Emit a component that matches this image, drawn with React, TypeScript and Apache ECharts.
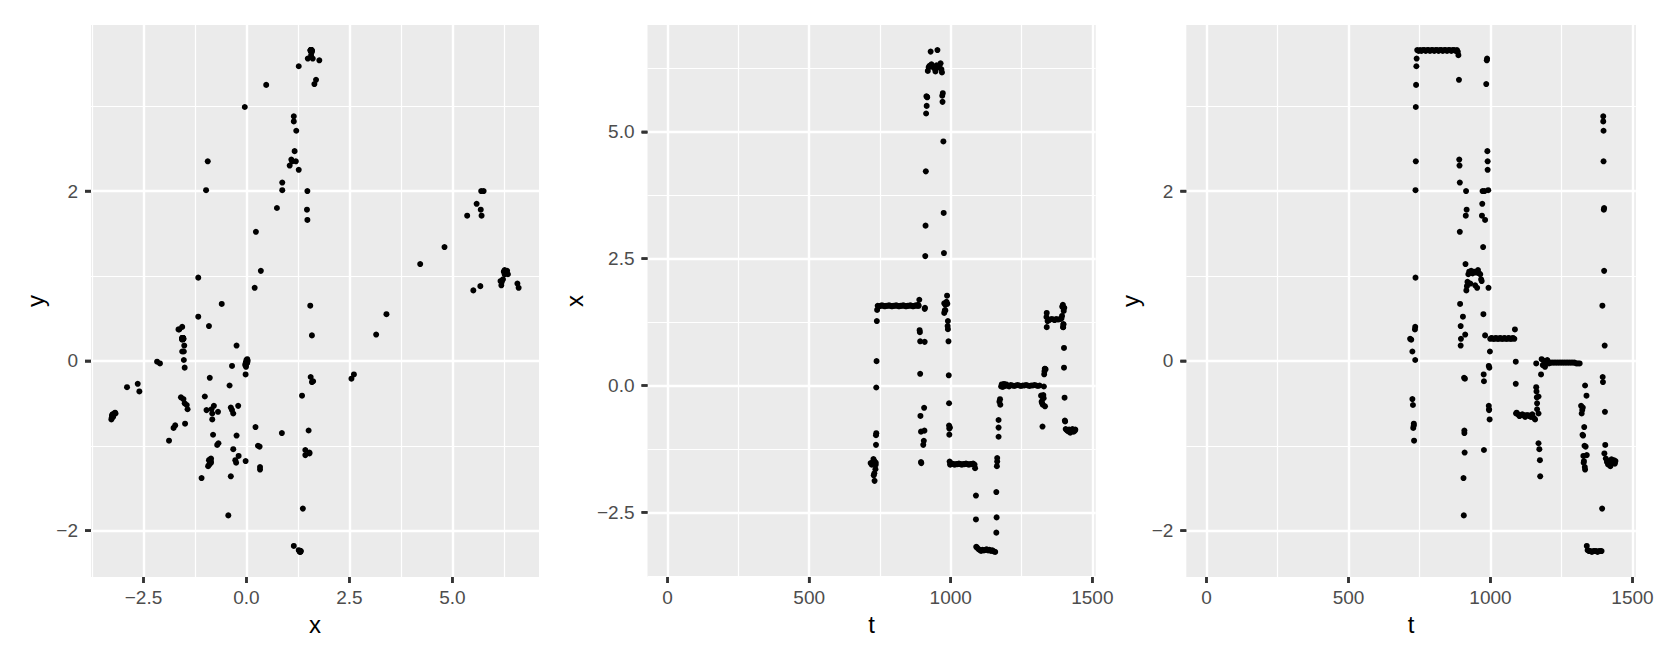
import { useEffect, useRef } from "react";
import * as echarts from "echarts";

// Each record: [minute of day t, position x, position y]
const startWander = [
  [717, -1.53, 0.26], [721, -1.56, 0.25], [725, -1.52, 0.11], [725, -1.53, -0.45],
  [727, -1.45, -0.52], [728, -1.77, -0.79], [730, -1.73, -0.76], [730, -1.49, -0.74],
  [731, -1.88, -0.94], [734, -1.65, 0.37], [735, -1.52, 0.01], [735, -1.56, 0.40],
  [736, -1.17, 0.98], [736, -0.98, 2.01], [737, -0.94, 2.35], [737, -0.04, 2.99],
  [738, 0.48, 3.25], [739, 1.27, 3.47], [740, 1.49, 3.56],
];
const northStay = [
  [742, 1.57, 3.66], [747, 1.56, 3.65], [752, 1.57, 3.66], [757, 1.58, 3.65], [762, 1.57, 3.66],
  [767, 1.56, 3.66], [772, 1.57, 3.65], [777, 1.57, 3.66], [782, 1.58, 3.66], [787, 1.57, 3.65],
  [792, 1.56, 3.66], [797, 1.57, 3.66], [802, 1.57, 3.65], [807, 1.58, 3.66], [812, 1.57, 3.66],
  [817, 1.56, 3.65], [822, 1.57, 3.66], [827, 1.57, 3.66], [832, 1.58, 3.65], [837, 1.57, 3.66],
  [842, 1.56, 3.66], [847, 1.57, 3.65], [852, 1.57, 3.66], [857, 1.58, 3.66], [862, 1.57, 3.65],
  [867, 1.56, 3.66], [872, 1.57, 3.66], [877, 1.58, 3.65], [882, 1.57, 3.66], [885, 1.59, 3.64],
];
const firstDescent = [
  [887, 1.57, 3.60], [889, 1.69, 3.31], [890, 1.09, 2.37], [891, 1.05, 2.30],
  [892, 0.87, 2.10], [892, 0.23, 1.52], [893, -0.60, 0.67], [895, -0.91, 0.41],
  [895, -1.51, 0.18], [896, -1.53, 0.26], [903, -1.17, 0.52], [905, -1.09, -1.38],
  [906, -0.44, -1.82], [907, -0.89, -0.20], [908, 0.86, -0.85], [908, 1.51, -0.82],
  [909, 1.53, -1.08],
];
const eastDash = [
  [910, 2.55, -0.21], [911, 3.15, 0.31], [912, 4.22, 1.14], [913, 5.36, 1.71],
  [914, 5.70, 2.00], [915, 5.51, 0.83], [916, 5.69, 1.78], [917, 5.68, 0.88],
];
const eastStay = [
  [919, 6.20, 0.93], [922, 6.27, 1.02], [925, 6.30, 1.05], [929, 6.58, 0.91], [932, 6.33, 1.06],
  [937, 6.28, 1.03], [942, 6.25, 1.05], [946, 6.19, 0.89], [950, 6.31, 1.04], [953, 6.61, 0.86],
  [956, 6.27, 1.07], [960, 6.30, 1.03], [964, 6.35, 1.02], [967, 6.23, 0.96], [969, 6.17, 0.94],
];
const returnWest = [
  [970, 5.71, 1.71], [971, 5.59, 1.85], [972, 5.76, 2.00], [974, 4.81, 1.34], [975, 3.40, 0.55],
  [976, 2.61, -0.16], [977, 1.62, -0.24], [977, 1.43, -1.05], [979, 1.48, 2.00], [981, 1.48, 1.66],
  [981, 1.59, 0.30], [985, 1.65, 3.26], [987, 1.77, 3.54], [988, 1.61, 3.56], [989, 1.17, 2.47],
  [990, 1.27, 2.25], [990, 1.11, 2.35], [992, 0.87, 2.01], [993, 0.20, 0.86], [994, -0.35, -0.06],
  [994, -0.79, -0.53], [995, -0.85, -0.57], [995, -0.97, -0.58], [996, -1.50, -0.08],
  [997, -0.83, -0.69], [998, -1.56, 0.11],
];
const westStay = [
  [999, -1.55, 0.26], [1004, -1.54, 0.27], [1009, -1.55, 0.26], [1014, -1.56, 0.26],
  [1019, -1.55, 0.27], [1024, -1.55, 0.26], [1029, -1.54, 0.26], [1034, -1.55, 0.27],
  [1039, -1.56, 0.26], [1044, -1.55, 0.26], [1049, -1.55, 0.27], [1054, -1.54, 0.26],
  [1059, -1.55, 0.26], [1064, -1.56, 0.27], [1069, -1.55, 0.26], [1074, -1.55, 0.26],
  [1079, -1.54, 0.27], [1084, -1.56, 0.26],
];
const farWestLeg = [
  [1086, -1.63, 0.37], [1089, -2.17, -0.01], [1089, -2.64, -0.27], [1090, -3.18, -0.62],
];
const farWestStay = [
  [1092, -3.19, -0.61], [1097, -3.22, -0.63], [1102, -3.24, -0.65], [1107, -3.26, -0.64],
  [1112, -3.24, -0.63], [1117, -3.25, -0.64], [1122, -3.24, -0.66], [1127, -3.23, -0.64],
  [1132, -3.25, -0.64], [1137, -3.24, -0.65], [1142, -3.26, -0.66], [1147, -3.25, -0.63],
  [1152, -3.27, -0.67], [1157, -3.28, -0.69],
];
const returnCentre = [
  [1161, -2.90, -0.31], [1161, -2.10, -0.03], [1162, -2.60, -0.36], [1163, -1.59, -0.43],
  [1164, -1.50, -0.50], [1164, -1.43, -0.57], [1169, -1.01, -0.42], [1169, -0.83, -0.62],
  [1169, -0.68, -0.97], [1172, -0.32, -1.04], [1174, -0.27, -1.17], [1175, -0.38, -1.36],
  [1178, -0.02, -0.16],
];
const centreStay = [
  [1180, 0.02, 0.02], [1184, -0.03, -0.05], [1188, 0.03, 0.00], [1192, -0.01, -0.07],
  [1196, 0.02, -0.02], [1200, 0.00, 0.01], [1206, -0.02, -0.03], [1212, 0.01, -0.02],
  [1218, 0.00, -0.02], [1224, -0.01, -0.02], [1230, 0.00, -0.02], [1236, 0.01, -0.02],
  [1242, 0.00, -0.02], [1248, -0.01, -0.02], [1254, 0.00, -0.02], [1260, 0.00, -0.02],
  [1266, 0.01, -0.02], [1272, 0.00, -0.02], [1278, -0.01, -0.02], [1284, 0.00, -0.02],
  [1290, 0.00, -0.02], [1296, 0.01, -0.02], [1302, 0.00, -0.03], [1308, -0.01, -0.03],
  [1314, 0.00, -0.03],
];
const southLeg = [
  [1319, -0.20, -0.53], [1321, -0.32, -0.62], [1323, -0.35, -0.58], [1324, -0.81, -0.87],
  [1325, -0.38, -0.55], [1326, -0.24, -0.88], [1327, -0.19, -1.12], [1328, -0.25, -1.20],
  [1329, -0.02, -1.18], [1330, 0.22, -0.78], [1331, 0.28, -1.00], [1332, 0.33, -1.25],
  [1333, 0.33, -1.28], [1333, -0.41, -0.29], [1335, 0.32, -1.01], [1338, 1.35, -0.41],
  [1339, 1.43, -1.11], [1339, 1.15, -2.18],
];
const southStay = [
  [1342, 1.27, -2.23], [1347, 1.29, -2.24], [1352, 1.30, -2.24], [1357, 1.31, -2.25],
  [1362, 1.30, -2.24], [1367, 1.29, -2.24], [1372, 1.31, -2.24], [1377, 1.30, -2.25],
  [1382, 1.30, -2.24], [1387, 1.31, -2.24], [1391, 1.32, -2.24],
];
const lastLeg = [
  [1393, 1.37, -1.74], [1394, 1.55, 0.65], [1395, 1.56, -0.19], [1396, 1.59, -0.25],
  [1397, 1.15, 2.88], [1397, 1.15, 2.82], [1398, 1.21, 2.71], [1398, 1.20, 2.35],
  [1399, 1.47, 1.78], [1400, 0.74, 1.80], [1400, 0.35, 1.06], [1401, 1.53, -1.09],
  [1402, -0.24, 0.18], [1403, -0.69, -0.60], [1404, -0.71, -0.99],
];
const finalStay = [
  [1406, -0.86, -1.15], [1410, -0.88, -1.19], [1414, -0.90, -1.22], [1418, -0.87, -1.18],
  [1422, -0.93, -1.24], [1426, -0.88, -1.16], [1430, -0.86, -1.20], [1434, -0.91, -1.17],
  [1438, -0.89, -1.21], [1440, -0.87, -1.18],
];

// minutes covered by the recording (earlier minutes carry no position fix)
const minuteDomain = [1, 1440];

const xTicks = [-2.5, 0, 2.5, 5];
const yTicks = [-2, 0, 2];
const tTicks = [0, 500, 1000, 1500];

const track = [
  ...startWander, ...northStay, ...firstDescent, ...eastDash, ...eastStay, ...returnWest,
  ...westStay, ...farWestLeg, ...farWestStay, ...returnCentre, ...centreStay, ...southLeg,
  ...southStay, ...lastLeg, ...finalStay,
];

const FONT = "'Liberation Sans', Arial, Helvetica, sans-serif";
const TICK_LEN = 6;
const TICK_COLOR = "#333333";
const TICK_WIDTH = 2.5;

function expand(lo: number, hi: number) {
  const d = (hi - lo) * 0.05;
  return [lo - d, hi + d];
}

function range(vals: number[]) {
  return [Math.min(...vals), Math.max(...vals)];
}

function fmt(decimals: number) {
  return (v: number) => {
    const s = Math.abs(v) < 1e-9 ? (0).toFixed(decimals) : v.toFixed(decimals);
    return s.replace("-", "\u2212");
  };
}

function axis(o: {
  gridIndex: number;
  extent: number[];
  step: number;
  ticks: number[];
  decimals: number;
  name: string;
  nameGap: number;
  isY: boolean;
}) {
  return {
    type: "value",
    gridIndex: o.gridIndex,
    position: o.isY ? "left" : "bottom",
    min: o.extent[0],
    max: o.extent[1],
    minInterval: o.step,
    maxInterval: o.step,
    name: o.name,
    nameLocation: "middle",
    nameGap: o.nameGap,
    nameTextStyle: { fontSize: 24, color: "#000000", fontFamily: FONT },
    axisLine: { show: false, onZero: false },
    axisTick: {
      show: true,
      inside: false,
      length: TICK_LEN,
      customValues: o.ticks,
      lineStyle: { color: TICK_COLOR, width: TICK_WIDTH },
    },
    axisLabel: {
      show: true,
      customValues: o.ticks,
      color: "#4D4D4D",
      fontSize: 19,
      fontFamily: FONT,
      margin: o.isY ? 13 : 11,
      formatter: fmt(o.decimals),
    },
    splitLine: { show: true, lineStyle: { color: "#FFFFFF", width: 2.4 } },
    minorTick: { show: false, splitNumber: 2 },
    minorSplitLine: { show: true, lineStyle: { color: "#FFFFFF", width: 1.2 } },
  };
}

// tick marks drawn by a custom series: positioned with api.coord through the panel's axes
function tickSeries(panel: number, vals: number[], edge: number, vertical: boolean) {
  return {
    type: "custom",
    xAxisIndex: panel,
    yAxisIndex: panel,
    clip: false,
    silent: true,
    z: 20,
    encode: { x: 0, y: 1 },
    data: vals.map((v) => (vertical ? [v, edge] : [edge, v])),
    renderItem: (_params: any, api: any) => {
      const p = api.coord([api.value(0), api.value(1)]);
      const shape = vertical
        ? { x1: p[0], y1: p[1], x2: p[0], y2: p[1] + TICK_LEN }
        : { x1: p[0] - TICK_LEN, y1: p[1], x2: p[0], y2: p[1] };
      return {
        type: "line",
        shape,
        style: { stroke: TICK_COLOR, lineWidth: TICK_WIDTH, fill: "none" },
      };
    },
  };
}

export default function App() {
  const ref = useRef<HTMLDivElement>(null);

  useEffect(() => {
    if (!ref.current) return;
    const chart = echarts.init(ref.current, undefined, { renderer: "svg" });

    const xs = track.map((p) => p[1]);
    const ys = track.map((p) => p[2]);
    const xExt = expand(range(xs)[0], range(xs)[1]);
    const yExt = expand(range(ys)[0], range(ys)[1]);
    const tExt = expand(minuteDomain[0], minuteDomain[1]);

    const gridBase = { show: true, backgroundColor: "#EBEBEB", borderWidth: 0, top: 25, height: 552 };

    const pointStyle = {
      type: "scatter",
      symbol: "circle",
      symbolSize: 6,
      itemStyle: { color: "#000000", opacity: 1 },
      silent: true,
      z: 5,
    };

    chart.setOption({
      animation: false,
      textStyle: { fontFamily: FONT },
      grid: [
        { ...gridBase, left: 91, width: 448 },
        { ...gridBase, left: 647.5, width: 448.2 },
        { ...gridBase, left: 1186.3, width: 449.6 },
      ],
      xAxis: [
        axis({ gridIndex: 0, extent: xExt, step: 2.5, ticks: xTicks, decimals: 1, name: "x", nameGap: 35, isY: false }),
        axis({ gridIndex: 1, extent: tExt, step: 500, ticks: tTicks, decimals: 0, name: "t", nameGap: 35, isY: false }),
        axis({ gridIndex: 2, extent: tExt, step: 500, ticks: tTicks, decimals: 0, name: "t", nameGap: 35, isY: false }),
      ],
      yAxis: [
        axis({ gridIndex: 0, extent: yExt, step: 2, ticks: yTicks, decimals: 0, name: "y", nameGap: 44, isY: true }),
        axis({ gridIndex: 1, extent: xExt, step: 2.5, ticks: xTicks, decimals: 1, name: "x", nameGap: 61, isY: true }),
        axis({ gridIndex: 2, extent: yExt, step: 2, ticks: yTicks, decimals: 0, name: "y", nameGap: 44, isY: true }),
      ],
      series: [
        { ...pointStyle, xAxisIndex: 0, yAxisIndex: 0, data: track.map((p) => [p[1], p[2]]) },
        { ...pointStyle, xAxisIndex: 1, yAxisIndex: 1, data: track.map((p) => [p[0], p[1]]) },
        { ...pointStyle, xAxisIndex: 2, yAxisIndex: 2, data: track.map((p) => [p[0], p[2]]) },
        tickSeries(0, xTicks, yExt[0], true),
        tickSeries(0, yTicks, xExt[0], false),
        tickSeries(1, tTicks, xExt[0], true),
        tickSeries(1, xTicks, tExt[0], false),
        tickSeries(2, tTicks, yExt[0], true),
        tickSeries(2, yTicks, tExt[0], false),
      ],
    });

    return () => chart.dispose();
  }, []);

  return (
    <div
      ref={ref}
      style={{ position: "fixed", left: 0, top: 0, width: 1661, height: 664, background: "#FFFFFF" }}
    />
  );
}
